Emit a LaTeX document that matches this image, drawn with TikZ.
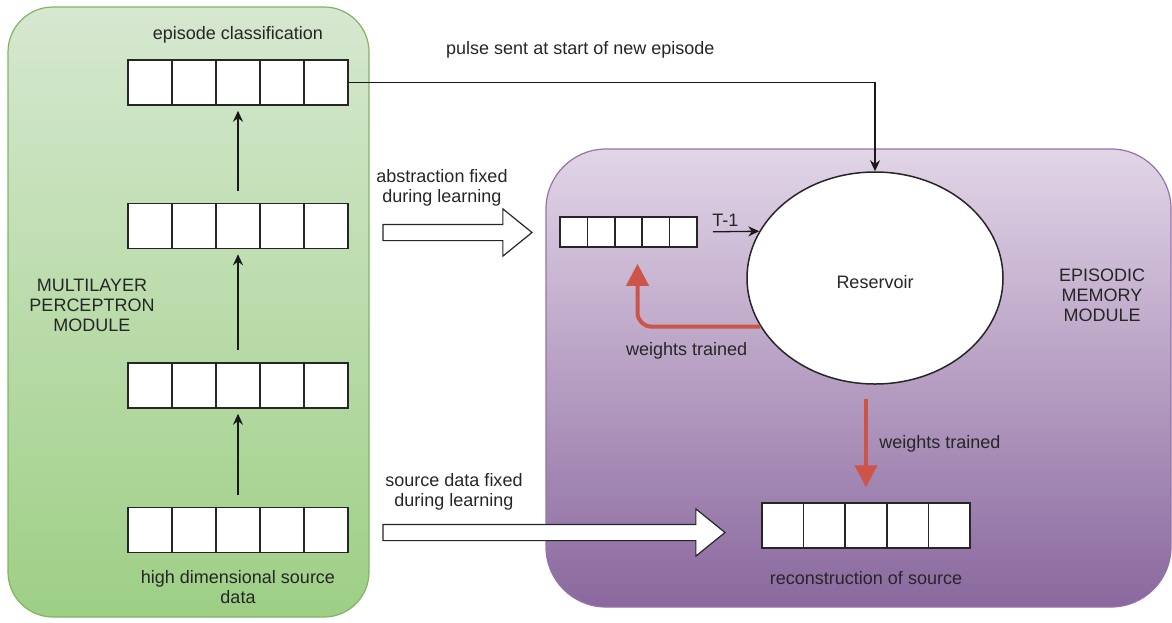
\documentclass[tikz,border=0pt]{standalone}
\usepackage{fontspec}
\setmainfont{Liberation Sans}
\usetikzlibrary{positioning, arrows.meta, shapes.geometric, shapes.arrows, calc}

\definecolor{mlpTop}{RGB}{214,232,208}
\definecolor{mlpBot}{RGB}{158,207,133}
\definecolor{mlpLine}{RGB}{130,179,102}
\definecolor{emTop}{RGB}{226,213,231}
\definecolor{emBot}{RGB}{138,104,158}
\definecolor{emLine}{RGB}{150,115,166}
\definecolor{trainRed}{RGB}{204,84,72}

\begin{document}
\begin{tikzpicture}[x=1pt, y=-1pt,
        every node/.style={font=\fontsize{18}{20}\selectfont, text=black!85},
        vec/.style={rectangle, draw=black!85, fill=white, line width=1.5pt, inner sep=0pt, minimum width=220pt, minimum height=45pt,
            path picture={\foreach \k in {1,...,4}
                \draw[line width=1.5pt, black!85] ($(path picture bounding box.north west)!\k/5!(path picture bounding box.north east)$)
                    -- ($(path picture bounding box.south west)!\k/5!(path picture bounding box.south east)$);}},
        hollow/.style={single arrow, draw=black!85, fill=white, line width=1.2pt, inner sep=0pt, text height=15pt, text depth=0pt,
            single arrow head extend=15.5pt, single arrow tip angle=78, minimum height=#1},
        flow/.style={-{Stealth[length=11pt, width=10pt]}, line width=1.3pt, draw=black!90},
        train/.style={-{Triangle[length=22pt, width=22pt]}, draw=trainRed, line width=4pt}
    ]
    \useasboundingbox (0,0) rectangle (1172,622);
%
    \node[draw=mlpLine, line width=1.2pt, top color=mlpTop, bottom color=mlpBot, rounded corners=45pt, minimum width=361pt, minimum height=610pt] (mlp) at (188.5,312) {};
    \node[draw=emLine, line width=1.2pt, top color=emTop, bottom color=emBot, rounded corners=60pt, minimum width=625pt, minimum height=458pt] (emm) at (858.5,378) {};
%
    \node[vec] (cls) at (238,82.5) {};
    \node[vec, below=97pt of cls] (hid2) {};
    \node[vec, below=113pt of hid2] (hid1) {};
    \node[vec, below=98pt of hid1] (src) {};
%
    \node[above=12pt of cls] (clslabel) {episode classification};
    \node[below=14pt of src, align=center] (srclabel) {high dimensional source\\data};
    \node[align=center] (mlplabel) at (92,305) {MULTILAYER\\PERCEPTRON\\MODULE};
%
    \draw[flow, shorten <=12pt, shorten >=5pt] (src) -- (hid1);
    \draw[flow, shorten <=12pt, shorten >=5pt] (hid1) -- (hid2);
    \draw[flow, shorten <=12pt, shorten >=5pt] (hid2) -- (cls);
%
    \node[ellipse, draw=black!85, fill=white, line width=1.5pt, minimum width=256pt, minimum height=212pt, inner sep=0pt, text height=21pt] (res) at (875,278) {Reservoir};
    \node[vec, minimum width=137pt, minimum height=30pt] (small) at (628.5,232) {};
    \node[vec, minimum width=208pt] (recon) at (866,525.5) {};
    \node[below=19pt of recon] (reclabel) {reconstruction of source};
    \node[align=center] (emlabel) at (1102,295) {EPISODIC\\MEMORY\\MODULE};
%
    \node[hollow=149pt] (absarrow) at (452.5,232.5) {};
    \node[align=center] (abslabel) at (442,188) {abstraction fixed\\during learning};
    \node[hollow=342pt] (srcarrow) at (549,532.5) {};
    \node[align=center] (srcdatalabel) at (454,491.5) {source data fixed\\during learning};
%
    \draw[flow] (cls.east) -| (res.north) node[pos=.22, above=20pt] {pulse sent at start of new episode};
    \draw[flow, shorten <=15pt] (small.east) -- (res.158) node[pos=.45, above=1pt] {T-1};
    \draw[train, rounded corners=14pt, shorten >=16pt] (res.203) -| ([xshift=9pt]small.south) node[pos=.3, below=10pt] {weights trained};
    \draw[train, shorten <=14pt, shorten >=15pt] (recon.north |- res.south) -- (recon.north) node[midway, right=8pt] {weights trained};
%
\end{tikzpicture}
\end{document}
